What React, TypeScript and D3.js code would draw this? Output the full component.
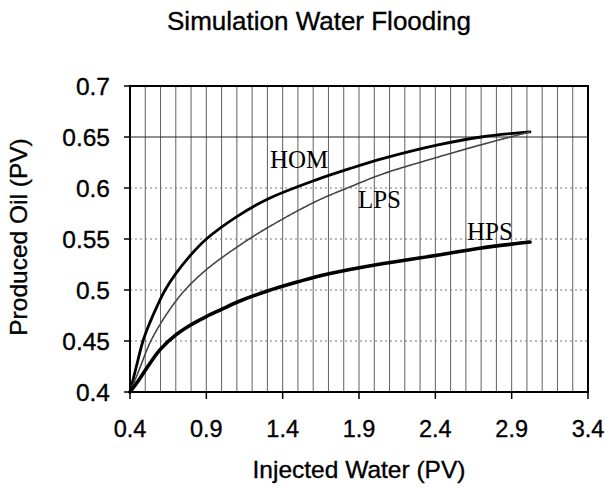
import React from "react";
import * as d3 from "d3";

// Simulation water flooding: produced oil vs injected water (PV)
const homX = [0.4, 0.44, 0.485, 0.53, 0.58, 0.63, 0.7, 0.79, 0.9, 1.1, 1.3, 1.62, 1.84, 2.06, 2.41, 2.7, 3.02];
const homY = [0.4, 0.424, 0.45, 0.468, 0.485, 0.5, 0.516, 0.533, 0.55, 0.572, 0.589, 0.608, 0.619, 0.629, 0.642, 0.65, 0.655];

const lpsX = [0.4, 0.45, 0.53, 0.6, 0.68, 0.76, 0.9, 1.1, 1.3, 1.62, 1.84, 2.06, 2.41, 2.69, 3.02];
const lpsY = [0.4, 0.418, 0.448, 0.467, 0.485, 0.5, 0.52, 0.542, 0.561, 0.587, 0.601, 0.614, 0.63, 0.642, 0.655];

const hpsX = [0.4, 0.45, 0.53, 0.6, 0.7, 0.8, 0.9, 1.0, 1.1, 1.3, 1.5, 1.62, 1.84, 2.06, 2.41, 2.69, 3.02];
const hpsY = [0.4, 0.41, 0.428, 0.442, 0.456, 0.466, 0.474, 0.481, 0.488, 0.499, 0.508, 0.513, 0.52, 0.526, 0.534, 0.541, 0.547];

const xTicks = [0.4, 0.9, 1.4, 1.9, 2.4, 2.9, 3.4];
const yTicks = [0.4, 0.45, 0.5, 0.55, 0.6, 0.65, 0.7];
const xGrid = d3.range(5, 34).map(d => d / 10);

const labels = [
  { text: "HOM", x: 1.317, y: 0.6196 },
  { text: "LPS", x: 1.893, y: 0.58 },
  { text: "HPS", x: 2.607, y: 0.549 },
];

const width = 605;
const height = 489;
const margin = { top: 86, right: 17, bottom: 97, left: 130 };

const App = () => {
  const x = d3.scaleLinear().domain([0.4, 3.4]).range([margin.left, width - margin.right]);
  const y = d3.scaleLinear().domain([0.4, 0.7]).range([height - margin.bottom, margin.top]);

  const line = d3
    .line<[number, number]>()
    .x(d => x(d[0]))
    .y(d => y(d[1]))
    .curve(d3.curveCatmullRom.alpha(0.5));

  const series = [
    { xs: homX, ys: homY, w: 2.8, color: "#000", dash: "" },
    { xs: lpsX, ys: lpsY, w: 1.6, color: "#444", dash: "2,0.8" },
    { xs: hpsX, ys: hpsY, w: 3.6, color: "#000", dash: "" },
  ];

  const sans = "'Liberation Sans', Arial, sans-serif";
  const serif = "'Liberation Serif', 'Times New Roman', serif";
  const ink = { stroke: "#000", strokeWidth: 0.35 };

  return (
    <svg width={width} height={height} style={{ position: "absolute", left: 0, top: 0, background: "#fff" }}>
      <text x={319} y={30} textAnchor="middle" fontFamily={sans} fontSize={26} {...ink}>
        Simulation Water Flooding
      </text>

      {/* vertical grid */}
      {xGrid.map((t, i) => (
        <line key={i} x1={x(t)} x2={x(t)} y1={y(0.7)} y2={y(0.4)} stroke="#444" strokeWidth={0.85} />
      ))}

      {/* horizontal grid */}
      {yTicks.slice(1, -1).map((t, i) => (
        <line
          key={i}
          x1={x(0.4)}
          x2={x(3.4)}
          y1={y(t)}
          y2={y(t)}
          stroke={t === 0.65 ? "#222" : "#777"}
          strokeWidth={t === 0.65 ? 1.2 : 1}
          strokeDasharray={t === 0.65 ? "" : "2,3"}
        />
      ))}

      {/* frame */}
      <rect
        x={x(0.4)}
        y={y(0.7)}
        width={x(3.4) - x(0.4)}
        height={y(0.4) - y(0.7)}
        fill="none"
        stroke="#000"
        strokeWidth={2}
      />

      {/* y ticks */}
      {yTicks.map((t, i) => (
        <g key={i} transform={`translate(${x(0.4)}, ${y(t)})`}>
          <line x1={-6} x2={0} stroke="#000" strokeWidth={1.5} />
          <text x={-20} dy="0.36em" textAnchor="end" fontFamily={sans} fontSize={24.5} {...ink}>
            {t}
          </text>
        </g>
      ))}

      {/* x ticks */}
      {xTicks.map((t, i) => (
        <g key={i} transform={`translate(${x(t)}, ${y(0.4)})`}>
          <line y1={0} y2={7} stroke="#000" strokeWidth={1.5} />
          <text y={45} textAnchor="middle" fontFamily={sans} fontSize={23.5} {...ink}>
            {t}
          </text>
        </g>
      ))}

      <text x={359} y={478} textAnchor="middle" fontFamily={sans} fontSize={24.5} {...ink}>
        Injected Water (PV)
      </text>
      <text
        transform="translate(27, 237) rotate(-90)"
        textAnchor="middle"
        fontFamily={sans}
        fontSize={24.5}
        {...ink}
      >
        Produced Oil (PV)
      </text>

      {series.map((s, i) => (
        <path
          key={i}
          d={line(s.xs.map((v, j) => [v, s.ys[j]] as [number, number])) || ""}
          fill="none"
          stroke={s.color}
          strokeWidth={s.w}
          strokeDasharray={s.dash}
          strokeLinecap="round"
        />
      ))}

      {labels.map((l, i) => (
        <text key={i} x={x(l.x)} y={y(l.y)} fontFamily={serif} fontSize={25}>
          {l.text}
        </text>
      ))}
    </svg>
  );
};

export default App;
